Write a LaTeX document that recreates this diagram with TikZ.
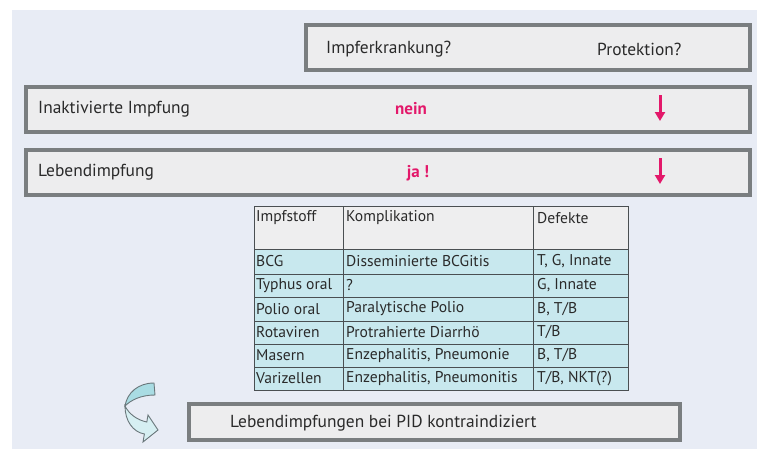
\documentclass[tikz,border=0pt]{standalone}
\usepackage{fontspec}
\setmainfont{PT Sans}
\usetikzlibrary{arrows.meta}
\definecolor{panel}{HTML}{E8ECF5}
\definecolor{boxfill}{HTML}{EDEDEE}
\definecolor{boxline}{HTML}{7A7E80}
\definecolor{cellfill}{HTML}{C8E8EE}
\definecolor{headfill}{HTML}{EEEEEF}
\definecolor{tabline}{HTML}{4A4F52}
\definecolor{pinkred}{HTML}{E3186A}
\definecolor{arrcyan}{HTML}{A9DCE3}
\definecolor{arrlight}{HTML}{D6EFF2}
\definecolor{arrline}{HTML}{6A777B}
\definecolor{txt}{HTML}{2A2A2A}
\begin{document}
\begin{tikzpicture}[x=1pt,y=-1pt,
  rowbox/.style={draw=boxline,line width=3.4pt,fill=boxfill},
  lbl/.style={anchor=west,inner sep=0pt,text=txt,font=\fontsize{17.4}{19}\selectfont},
  hot/.style={inner sep=0pt,text=pinkred,font=\fontsize{17}{19}\selectfont\bfseries},
  cell/.style={draw=tabline,line width=0.9pt,fill=cellfill},
  hcell/.style={draw=tabline,line width=0.9pt,fill=headfill},
  ctext/.style={anchor=west,inner sep=0pt,text=txt,font=\fontsize{15.6}{17}\selectfont},
  downarr/.style={draw=pinkred,line width=3pt,-{Triangle[length=9pt,width=10pt]}},
  ribbon/.style={draw=arrline,line width=0.9pt}]
\useasboundingbox (0,0) rectangle (757,450);
\fill[white] (0,0) rectangle (757,450);
\fill[panel] (12,10) rectangle (757,449);

% header box
\draw[rowbox] (306,25) rectangle (750,70);
\node[lbl] (h1) at (326,49) {Impferkrankung?};
\node[lbl] (h2) at (597,49) {Protektion?};

% row boxes
\draw[rowbox] (26,87) rectangle (750,132);
\node[lbl] (r1) at (38,109) {Inaktivierte Impfung};
\node[hot] (n1) at (411,109) {nein};
\coordinate (a1s) at (660,95);
\coordinate (a1e) at (660,121);
\draw[downarr] (a1s) -- (a1e);

\draw[rowbox] (26,150) rectangle (750,195);
\node[lbl] (r2) at (38,172) {Lebendimpfung};
\node[hot] (n2) at (418,173) {ja !};
\coordinate (a2s) at (660,158);
\coordinate (a2e) at (660,184);
\draw[downarr] (a2s) -- (a2e);

% table
\def\xa{254}\def\xb{343}\def\xc{533}\def\xd{628}
\draw[hcell] (\xa,206) rectangle (\xb,249);
\draw[hcell] (\xb,206) rectangle (\xc,249);
\draw[hcell] (\xc,206) rectangle (\xd,249);
\node[ctext] (t0a) at (\xa+2,218) {Impfstoff};
\node[ctext] (t0b) at (\xb+3,218) {Komplikation};
\node[ctext] (t0c) at (\xc+4,218) {Defekte};
\foreach \ya/\yb/\ca/\cb/\cc [count=\i] in {
  249/274/BCG/Disseminierte BCGitis/{T, G, Innate},
  274/297/Typhus oral/?/{G, Innate},
  297/321/Polio oral/Paralytische Polio/{B, T/B},
  321/344/Rotaviren/Protrahierte Diarrhö/T\slash B,
  344/367/Masern/{Enzephalitis, Pneumonie}/{B, T/B},
  367/390/Varizellen/{Enzephalitis, Pneumonitis}/{T/B, NKT(?)}} {
  \draw[cell] (\xa,\ya) rectangle (\xb,\yb);
  \draw[cell] (\xb,\ya) rectangle (\xc,\yb);
  \draw[cell] (\xc,\ya) rectangle (\xd,\yb);
  \node[ctext] (c\i a) at (\xa+2,{(\ya+\yb)/2}) {\ca};
  \node[ctext] (c\i b) at (\xb+3,{(\ya+\yb)/2}) {\cb};
  \node[ctext] (c\i c) at (\xc+4,{(\ya+\yb)/2}) {\cc};
}

% curved arrow
\filldraw[ribbon,fill=arrcyan] (154,383) .. controls (138,383) and (127,393) .. (125,406)
  .. controls (131,400) and (141,395) .. (155,395) -- cycle;
\filldraw[ribbon,fill=arrlight] (125,406) .. controls (129,414) and (137,420) .. (146.8,422)
  -- (148,415) -- (158,430) -- (143,442) -- (144.4,434)
  .. controls (133,432) and (125,421) .. (125,406) -- cycle;

% bottom box
\draw[rowbox] (189,404) rectangle (680,440);
\node[lbl] (b1) at (230,423) {Lebendimpfungen bei PID kontraindiziert};
\end{tikzpicture}
\end{document}
